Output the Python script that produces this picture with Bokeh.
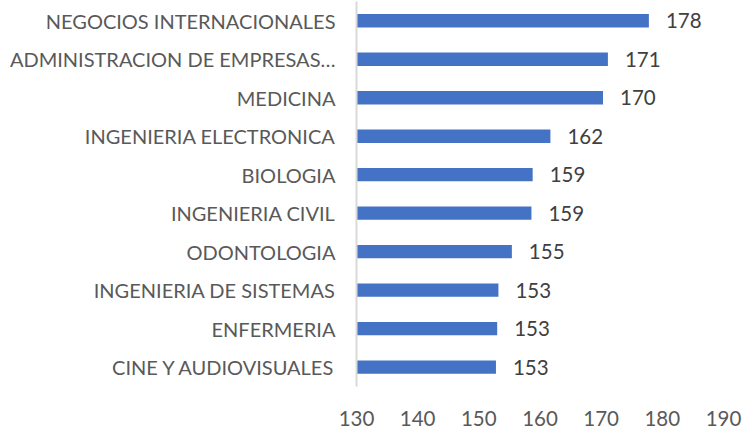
from bokeh.plotting import figure
from bokeh.models import Range1d, FixedTicker, ColumnDataSource
from bokeh.embed import file_html
from bokeh.resources import INLINE

# Data (top to bottom as shown)
careers = ["NEGOCIOS INTERNACIONALES", "ADMINISTRACION DE EMPRESAS…", "MEDICINA",
           "INGENIERIA ELECTRONICA", "BIOLOGIA", "INGENIERIA CIVIL", "ODONTOLOGIA",
           "INGENIERIA DE SISTEMAS", "ENFERMERIA", "CINE Y AUDIOVISUALES"]
values = [177.8, 171.1, 170.3, 161.7, 158.8, 158.6, 155.4, 153.2, 153.0, 152.8]
x_ticks = [130, 140, 150, 160, 170, 180, 190]

n = len(careers)
ypos = [n - 1 - i for i in range(n)]
labels = [str(round(v)) for v in values]
src = ColumnDataSource(dict(y=ypos, v=values, lab=labels, base=[x_ticks[0]] * n))

FONT = "Lato"
FS = "20px"

p = figure(width=745, height=429, output_backend="svg", toolbar_location=None,
           x_range=Range1d(x_ticks[0], x_ticks[-1]), y_range=Range1d(-0.501, 9.5),
           min_border_left=356, min_border_right=22, min_border_top=1, min_border_bottom=43)
p.outline_line_color = None
p.xgrid.visible = False
p.ygrid.visible = False

p.hbar(y="y", left="base", right="v", height=0.345, source=src,
       fill_color="#4472C4", line_color=None)
p.text(x="v", y="y", text="lab", source=src, x_offset=17, text_align="left",
       text_baseline="middle", text_color="#404040", text_font_size="20.5px",
       text_font={"value": FONT})

ya = p.yaxis[0]
ya.ticker = FixedTicker(ticks=ypos)
ya.major_label_overrides = {y: c for y, c in zip(ypos, careers)}
ya.axis_line_color = "#D9D9D9"
ya.axis_line_width = 2
ya.major_tick_line_color = None
ya.minor_tick_line_color = None
ya.major_tick_out = 0
ya.major_tick_in = 0
ya.major_label_standoff = 21
ya.major_label_text_font = FONT
ya.major_label_text_font_size = FS
ya.major_label_text_color = "#595959"

xa = p.xaxis[0]
xa.ticker = FixedTicker(ticks=x_ticks)
xa.axis_line_color = None
xa.major_tick_line_color = None
xa.minor_tick_line_color = None
xa.major_tick_out = 0
xa.major_tick_in = 0
xa.major_label_standoff = 24
xa.major_label_text_font = FONT
xa.major_label_text_font_size = "20.5px"
xa.major_label_text_color = "#595959"

open("out.html", "w").write(file_html(p, INLINE))
